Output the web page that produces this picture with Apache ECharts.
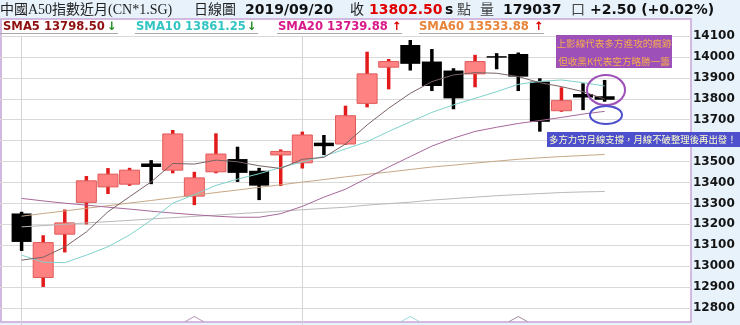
<!DOCTYPE html>
<html><head><meta charset="utf-8">
<script src="https://cdn.jsdelivr.net/npm/echarts@6/dist/echarts.min.js"></script>
<style>html,body{margin:0;padding:0;background:#e7f2fb}#c{width:740px;height:325px}</style>
</head><body><div id="c"></div><script>
// x categories (index 0 and the last four are empty slots)
const categories = ['2019/08/13','2019/08/14','2019/08/15','2019/08/16','2019/08/19','2019/08/20','2019/08/21','2019/08/22','2019/08/23','2019/08/26','2019/08/27','2019/08/28','2019/08/29','2019/08/30','2019/09/02','2019/09/03','2019/09/04','2019/09/05','2019/09/06','2019/09/09','2019/09/10','2019/09/11','2019/09/12','2019/09/13','2019/09/16','2019/09/17','2019/09/18','2019/09/19','2019/09/20','2019/09/23','2019/09/24','2019/09/25','2019/09/26'];
const firstCandle = 1;
const opens  = [13252,12946,13153,13305,13379,13392,13485,13459,13335,13451,13512,13456,13539,13494,13584,13584,13778,13951,14057,13978,13935,13919,14000,14014,13882,13743,13816,13805];
const closes = [13116,13113,13207,13408,13440,13459,13480,13632,13422,13536,13446,13385,13541,13627,13580,13719,13919,13978,13967,13861,13802,13978,14000,13906,13690,13791,13813,13802.5];
const lows   = [13073,12901,13066,13200,13345,13384,13392,13444,13292,13444,13403,13316,13383,13467,13531,13580,13759,13845,13935,13837,13750,13855,13941,13837,13643,13738,13746,13786];
const highs  = [13260,13148,13271,13431,13469,13470,13507,13651,13451,13635,13571,13470,13558,13643,13627,13767,14025,13990,14081,14038,13946,14010,14018,14021,13898,13855,13874,13890];
const sma5   = [13029,13043,13092,13164,13260,13332,13403,13491,13488,13507,13499,13480,13467,13511,13520,13584,13675,13755,13826,13882,13914,13925,13922,13906,13877,13858,13834,13798.50];
const sma10  = [13053,13019,13017,13053,13093,13149,13220,13301,13342,13386,13416,13442,13472,13498,13526,13560,13595,13644,13690,13735,13771,13802,13834,13869,13883,13890,13877,13861.25];
const sma20  = [13324,13312,13301,13292,13282,13273,13263,13254,13246,13239,13234,13234,13251,13286,13330,13368,13421,13474,13524,13574,13612,13644,13664,13682,13696,13711,13727,13739.88];
const sma60  = [13239,13252,13264,13277,13289,13302,13314,13327,13339,13352,13364,13377,13389,13402,13414,13427,13439,13450,13462,13474,13483,13493,13502,13511,13518,13524,13529,13533.88];
const smaLong= [13188,13194,13200,13207,13213,13219,13226,13232,13238,13244,13251,13257,13263,13270,13276,13282,13292,13299,13306,13316,13323,13330,13337,13342,13347,13352,13355,13357];
const yTicks = {min:12700, max:14100, step:100};
const monthMarks = [1, 14];
const maPeriods = [5, 10, 20];

const pad = a => Array(firstCandle).fill('-').concat(a);
const lastIdx = firstCandle + closes.length - 1;
const candleData = closes.map((c,k)=>[k+firstCandle, opens[k], c, lows[k], highs[k]]);

function renderCandle(params, api){
  const i=api.value(0), o=api.value(1), c=api.value(2), l=api.value(3), h=api.value(4);
  const pH=api.coord([i,h]), pL=api.coord([i,l]), pO=api.coord([i,o]), pC=api.coord([i,c]);
  const x=pH[0], bw=20, ww=3.5, up=c>o;
  let top=Math.min(pO[1],pC[1]), bot=Math.max(pO[1],pC[1]), hg=bot-top;
  const minH = (o===c)?1.5:3.5;
  if(hg<minH){const m=(top+bot)/2; top=m-minH/2; hg=minH;}
  return {type:'group', children:[
    {type:'rect', shape:{x:x-ww/2, y:pH[1], width:ww, height:pL[1]-pH[1]}, style:{fill: up?'#e21a1a':'#000'}},
    {type:'rect', shape:{x:x-bw/2, y:top, width:bw, height:hg}, style: up?{fill:'#ff8282',stroke:'#e05a5a',lineWidth:1}:{fill:'#000'}}
  ]};
}

const lineSeries = (name,data,color)=>({name,type:'line',data:pad(data),showSymbol:false,smooth:false,z:5,
  lineStyle:{color,width:1},itemStyle:{color},animation:false,silent:true});

const colSMA5='#8f1010', colSMA10='#33c4c4', colSMA20='#d8198a', colSMA60='#e8843a';
const markerColors=['#8a6680','#7fd0d0','#a2709e'];

const hdrFontCJK='14px "Liberation Serif","Noto Sans CJK TC"';
const hdrBold='bold 14px "DejaVu Sans"';
const lgFont='bold 11.6px "DejaVu Sans"';
function txt(x,y,text,font,fill,z){return {type:'text',x,y,z:z||50,style:{text,font,fill,verticalAlign:'middle'}};}
function uline(x1,x2){return {type:'line',z:50,shape:{x1,y1:33.5,x2,y2:33.5},style:{stroke:'#a8a8a8',lineWidth:1}};}

const option = {
  animation:false,
  backgroundColor:'#e7f2fb',
  grid:{left:0, top:36, width:691, height:293, containLabel:false, outerBoundsMode:'none'},
  xAxis:{type:'category', data:categories, boundaryGap:false,
    axisLine:{show:false}, axisTick:{show:false}, axisLabel:{show:false},
    splitLine:{show:true, interval:(idx)=>monthMarks.indexOf(idx)>=0, lineStyle:{color:'#d4d4d4',width:1}}},
  yAxis:{type:'value', position:'right', min:yTicks.min, max:yTicks.max, interval:yTicks.step,
    axisLine:{show:false}, axisTick:{show:false},
    axisLabel:{margin:2, color:'#141414', fontWeight:'bold', fontSize:12, fontFamily:'DejaVu Sans', showMinLabel:false,
      formatter:v=>(v===yTicks.min?'':String(v))},
    splitLine:{lineStyle:{color:'#d9d9d9', width:1.2}}},
  series:[
    {type:'custom', name:'K', data:candleData, renderItem:renderCandle, encode:{x:0,y:[1,2,3,4]}, z:3, silent:true},
    lineSeries('SMA120',smaLong,'#b9b9b9'),
    lineSeries('SMA60',sma60,'#c8a886'),
    lineSeries('SMA20',sma20,'#a8689a'),
    lineSeries('SMA10',sma10,'#7fd2cc'),
    lineSeries('SMA5',sma5,'#7a6464'),
    {type:'scatter', silent:true, z:6,
      data: maPeriods.map((p,k)=>({value:[lastIdx-p+1, yTicks.min], itemStyle:{color:'none', borderColor:markerColors[k], borderWidth:1}})),
      symbol:'path://M0,10 L10,0 L20,10', symbolSize:[18,5], symbolOffset:[0,-10]}
  ],
  graphic:[
    {type:'rect', z:-10, shape:{x:1, y:19, width:690, height:303}, style:{fill:'#ffffff', stroke:'#c9a5d8', lineWidth:1.5}},
    // header
    txt(0,10,'中國A50指數近月(CN*1.SG)',hdrFontCJK,'#222'),
    txt(194,10,'日線圖',hdrFontCJK,'#222'),
    txt(245,10,'2019/09/20',hdrBold,'#111'),
    txt(350,10,'收',hdrFontCJK,'#222'),
    txt(369,10,closes[closes.length-1].toFixed(2),hdrBold,'#e00000'),
    txt(445,10,'s',hdrBold,'#111'),
    txt(457,10,'點',hdrFontCJK,'#444'),
    txt(480,10,'量',hdrFontCJK,'#444'),
    txt(503,10,'179037',hdrBold,'#111'),
    txt(571,10,'口',hdrFontCJK,'#444'),
    txt(590,10,'+2.50 (+0.02%)',hdrBold,'#111'),
    // legend
    txt(3,27,'SMA5 '+sma5[sma5.length-1].toFixed(2),lgFont,colSMA5),
    txt(107,27,'↓',lgFont,'#1e8a1e'),
    uline(0,118),
    txt(136,27,'SMA10 '+sma10[sma10.length-1].toFixed(2),lgFont,colSMA10),
    txt(247,27,'↓',lgFont,'#1e8a1e'),
    uline(135,258),
    txt(278,27,'SMA20 '+sma20[sma20.length-1].toFixed(2),lgFont,colSMA20),
    txt(392,27,'↑',lgFont,'#e00000'),
    uline(277,402),
    txt(419,27,'SMA60 '+sma60[sma60.length-1].toFixed(2),lgFont,colSMA60),
    txt(534,27,'↑',lgFont,'#e00000'),
    uline(419,544),
    // annotations
    {type:'rect', z:100, shape:{x:556, y:35, width:116, height:33}, style:{fill:'#9c50b8'}},
    {type:'text', z:101, x:614, y:43.5, style:{text:'上影線代表多方進攻的痕跡', font:'9.6px "Noto Sans CJK TC"', fill:'#f7ac4e', align:'center', verticalAlign:'middle'}},
    {type:'text', z:101, x:614, y:61.5, style:{text:'但收黑K代表空方略勝一籌', font:'9.6px "Noto Sans CJK TC"', fill:'#f7ac4e', align:'center', verticalAlign:'middle'}},
    {type:'rect', z:100, shape:{x:547, y:132, width:193, height:15}, style:{fill:'#4d4fcc'}},
    {type:'text', z:101, x:549, y:139.5, style:{text:'多方力守月線支撐，月線不破整理後再出發！', font:'9.4px "Noto Sans CJK TC"', fill:'#ffffcc', verticalAlign:'middle'}},
    {type:'ellipse', z:100, shape:{cx:606, cy:90, rx:19, ry:15}, style:{fill:'none', stroke:'#9c50b8', lineWidth:2}},
    {type:'ellipse', z:100, shape:{cx:606, cy:115, rx:16, ry:9}, style:{fill:'none', stroke:'#4d4fcc', lineWidth:2}}
  ]
};
const chart = echarts.init(document.getElementById('c'), null, {renderer:'canvas'});
chart.setOption(option);
</script></body></html>
